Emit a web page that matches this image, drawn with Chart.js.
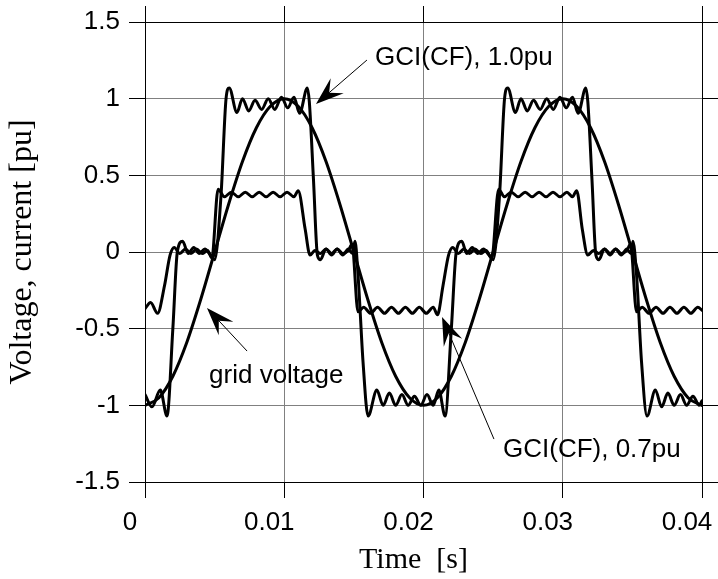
<!DOCTYPE html>
<html><head><meta charset="utf-8">
<script src="https://cdn.jsdelivr.net/npm/chart.js@4.4.0/dist/chart.umd.min.js"></script>
<style>html,body{margin:0;padding:0;background:#fff;}canvas{display:block;}</style>
</head><body>
<canvas id="c" width="718" height="579"></canvas>
<script>
const xTickValues = [0, 0.01, 0.02, 0.03, 0.04];
const xTickLabels = ['0', '0.01', '0.02', '0.03', '0.04'];
const yTickValues = [-1.5, -1, -0.5, 0, 0.5, 1, 1.5];
const yTickLabels = ['-1.5', '-1', '-0.5', '0', '0.5', '1', '1.5'];
const xTitle = 'Time  [s]';
const yTitle = 'Voltage, current [pu]';

const gridT = [0,0.001,0.002,0.003,0.004,0.005,0.006,0.007,0.008,0.009,0.010,0.011,0.012,0.013,0.014,0.015,0.016,0.017,0.018,0.019,0.020,
  0.021,0.022,0.023,0.024,0.025,0.026,0.027,0.028,0.029,0.030,0.031,0.032,0.033,0.034,0.035,0.036,0.037,0.038,0.039,0.040];
const gridV = [-1.00,-0.95,-0.81,-0.59,-0.31,0.00,0.31,0.59,0.81,0.95,1.00,0.95,0.81,0.59,0.31,0.00,-0.31,-0.59,-0.81,-0.95,-1.00,
  -0.95,-0.81,-0.59,-0.31,0.00,0.31,0.59,0.81,0.95,1.00,0.95,0.81,0.59,0.31,0.00,-0.31,-0.59,-0.81,-0.95,-1.00];

const gci10T = [0,0.0005,0.0011,0.00158,0.0020,0.00232,0.0027,0.0031,0.0035,0.0039,0.0043,0.0047,0.0050,0.00546,0.00582,0.00605,
  0.0066,0.0070,0.00745,0.0079,0.00838,0.00885,0.00932,0.0098,0.01025,0.0107,0.0111,0.01166,0.0118,0.0121,0.01238,0.0126,
  0.0130,0.0134,0.0138,0.0142,0.0146,0.0149,0.01508,0.0153,0.01566,0.01602,0.01665,0.0171,0.01755,0.0180,0.01845,0.0189,
  0.01935,0.0198,0.02025,0.0207,0.0211,0.02155,
  0.0220,0.02235,0.02275,0.0231,0.0235,0.0239,0.0243,0.0247,0.0250,0.02546,0.02582,0.02605,0.0266,0.0270,0.02745,0.0279,
  0.02838,0.02885,0.02932,0.0298,0.03025,0.0307,0.0311,0.03166,0.0318,0.0321,0.03238,0.0326,0.0330,0.0334,0.0338,0.0342,
  0.0346,0.0349,0.03504,0.0353,0.03566,0.03605,0.03665,0.0371,0.03755,0.0380,0.03845,0.0389,0.03935,0.0398,0.0400];
const gci10V = [-0.93,-1.01,-0.90,-1.07,-0.50,0.00,0.07,-0.01,0.03,-0.01,0.02,-0.02,-0.05,0.37,1.00,1.07,
  0.91,1.00,0.92,0.99,0.93,1.00,0.93,1.01,0.94,1.01,0.905,1.07,0.98,0.47,-0.02,-0.05,
  0.02,-0.02,0.02,-0.02,0.02,-0.01,0.07,-0.15,-0.72,-1.07,-0.90,-1.00,-0.92,-1.00,-0.93,-1.00,
  -0.94,-1.00,-0.93,-1.00,-0.90,-1.07,
  -0.50,0.00,0.07,-0.01,0.03,-0.01,0.02,-0.02,-0.05,0.37,1.00,1.07,0.91,1.00,0.92,0.99,
  0.93,1.00,0.93,1.01,0.94,1.01,0.905,1.07,0.98,0.47,-0.02,-0.05,0.02,-0.02,0.02,-0.02,
  0.02,-0.01,0.07,-0.15,-0.72,-1.07,-0.90,-1.01,-0.92,-1.00,-0.93,-1.00,-0.94,-1.00,-0.97];

const gci07T = [0,0.0004,0.0009,0.0014,0.0018,0.0021,0.0025,0.0029,0.0033,0.0037,0.0041,0.0045,0.0048,0.00525,
  0.0057,0.0062,0.0067,0.0072,0.0077,0.0082,0.0087,0.0092,0.0097,0.0102,0.0107,0.0110,0.0115,0.01185,
  0.0122,0.0126,0.0130,0.0134,0.0138,0.0142,0.0146,0.01487,0.0153,0.0157,0.0162,0.0167,0.0172,0.0177,
  0.0182,0.0187,0.0192,0.0197,0.0202,0.0207,0.0210,0.0214,0.0218,0.0221,0.0225,0.0229,0.0233,0.0237,
  0.0241,0.0245,0.0249,0.0254,0.0258,0.0263,0.0268,0.0273,0.0278,0.0283,0.0288,0.0293,0.0298,0.0303,
  0.0307,0.0310,0.0314,0.0318,0.0322,0.0326,0.0330,0.0334,0.0338,0.0342,0.0346,0.03487,0.0353,0.0357,
  0.0362,0.0367,0.0372,0.0377,0.0382,0.0387,0.0392,0.0397,0.0400];
const gci07V = [-0.37,-0.33,-0.40,-0.22,-0.02,0.03,-0.01,0.02,-0.01,0.02,-0.01,0.01,-0.04,0.41,
  0.36,0.39,0.36,0.39,0.36,0.39,0.36,0.39,0.36,0.39,0.36,0.40,0.15,-0.02,
  0.01,-0.01,0.02,-0.01,0.02,-0.01,0.01,0.05,-0.39,-0.36,-0.40,-0.36,-0.40,-0.36,
  -0.40,-0.36,-0.40,-0.36,-0.40,-0.36,-0.41,-0.22,-0.02,0.03,-0.01,0.02,-0.01,0.02,
  -0.01,0.01,-0.04,0.41,0.36,0.39,0.36,0.39,0.36,0.39,0.36,0.39,0.36,0.39,
  0.36,0.40,0.15,-0.02,0.01,-0.01,0.02,-0.01,0.02,-0.01,0.01,0.05,-0.39,-0.36,
  -0.40,-0.36,-0.40,-0.36,-0.40,-0.36,-0.40,-0.36,-0.38];

const noteText = ['GCI(CF), 1.0pu', 'grid voltage', 'GCI(CF), 0.7pu'];
const noteT = [0.01652, 0.0046, 0.02571];
const noteV = [1.22, -0.856, -1.337];
const arrowTailT = [0.01594, 0.00733, 0.02506];
const arrowTailV = [1.252, -0.646, -1.22];
const arrowTipT = [0.01228, 0.00445, 0.02133];
const arrowTipV = [0.965, -0.365, -0.424];

const SANS = '"Liberation Sans", Arial, Helvetica, sans-serif';
const SERIF = '"Liberation Serif", "Times New Roman", serif';

function pts(T, V) { return T.map((t, i) => ({ x: t, y: V[i] })); }
function lineDs(T, V) {
  return { data: pts(T, V), borderColor: '#000', borderWidth: 3, pointRadius: 0, fill: false,
    cubicInterpolationMode: 'monotone', borderJoinStyle: 'round', borderCapStyle: 'round' };
}
function noPad(s) { s.paddingLeft = 0; s.paddingRight = 0; s.paddingTop = 0; s.paddingBottom = 0; }

const notesPlugin = {
  id: 'notes',
  afterDatasetsDraw(chart) {
    const ctx = chart.ctx, xs = chart.scales.x, ys = chart.scales.y, ca = chart.chartArea;
    ctx.save();
    ctx.fillStyle = '#000';
    ctx.strokeStyle = '#000';
    ctx.font = '26px ' + SANS;
    ctx.textAlign = 'left';
    ctx.textBaseline = 'alphabetic';
    noteText.forEach((s, i) => ctx.fillText(s, xs.getPixelForValue(noteT[i]), ys.getPixelForValue(noteV[i])));
    for (let i = 0; i < arrowTipT.length; i++) {
      const x0 = xs.getPixelForValue(arrowTailT[i]), y0 = ys.getPixelForValue(arrowTailV[i]);
      const x1 = xs.getPixelForValue(arrowTipT[i]), y1 = ys.getPixelForValue(arrowTipV[i]);
      const a = Math.atan2(y1 - y0, x1 - x0), c = Math.cos(a), s = Math.sin(a);
      const L = 28, W = 10;
      ctx.lineWidth = 1;
      ctx.beginPath(); ctx.moveTo(x0, y0); ctx.lineTo(x1 - c * L * 0.6, y1 - s * L * 0.6); ctx.stroke();
      const bx = x1 - c * L, by = y1 - s * L;
      ctx.beginPath();
      ctx.moveTo(x1, y1);
      ctx.lineTo(bx - s * W, by + c * W);
      ctx.lineTo(x1 - c * L * 0.62, y1 - s * L * 0.62);
      ctx.lineTo(bx + s * W, by - c * W);
      ctx.closePath();
      ctx.fill();
    }
    // x-axis title (drawn slightly left of centre, as in the reference)
    ctx.font = '30px ' + SERIF;
    ctx.textAlign = 'center';
    ctx.fillText(xTitle, (ca.left + ca.right) / 2 - 10, ca.bottom + 86);
    ctx.restore();
  }
};

new Chart(document.getElementById('c'), {
  type: 'line',
  data: { datasets: [lineDs(gci07T, gci07V), lineDs(gci10T, gci10V), lineDs(gridT, gridV)] },
  options: {
    responsive: false, animation: false, devicePixelRatio: 1,
    layout: { padding: 0 },
    plugins: { legend: { display: false }, tooltip: { enabled: false } },
    scales: {
      x: {
        type: 'linear', position: 'bottom', min: 0, max: 0.04,
        afterBuildTicks: s => { s.ticks = xTickValues.map(v => ({ value: v })); },
        afterFit: s => { s.height = 97; noPad(s); },
        ticks: { callback: (v, i) => xTickLabels[i], color: '#000', font: { family: SANS, size: 26 },
          padding: 9, labelOffset: -15, maxRotation: 0, autoSkip: false },
        grid: { color: '#808080', lineWidth: 1, tickLength: 16, tickColor: '#000' },
        border: { color: '#000', width: 1 },
        title: { display: false }
      },
      x2: {
        type: 'linear', position: 'top', min: 0, max: 0.04,
        afterBuildTicks: s => { s.ticks = xTickValues.map(v => ({ value: v })); },
        afterFit: s => { s.height = 22; noPad(s); },
        ticks: { display: false },
        grid: { drawOnChartArea: false, tickLength: 16, tickColor: '#000', color: '#000' },
        border: { color: '#000', width: 1 }
      },
      y: {
        type: 'linear', position: 'left', min: -1.5, max: 1.5,
        afterBuildTicks: s => { s.ticks = yTickValues.map(v => ({ value: v })); },
        afterFit: s => { s.width = 145; noPad(s); },
        ticks: { callback: (v, i) => yTickLabels[i], color: '#000', font: { family: SANS, size: 26 }, padding: 9 },
        grid: { color: '#808080', lineWidth: 1, tickLength: 16, tickColor: '#000' },
        border: { color: '#000', width: 1 },
        title: { display: true, text: yTitle, color: '#000', font: { family: SERIF, size: 32 },
          padding: { top: 3, bottom: 0 } }
      },
      y2: {
        type: 'linear', position: 'right', min: -1.5, max: 1.5,
        afterBuildTicks: s => { s.ticks = yTickValues.map(v => ({ value: v })); },
        afterFit: s => { s.width = 16; noPad(s); },
        ticks: { display: false },
        grid: { drawOnChartArea: false, tickLength: 16, tickColor: '#000', color: '#000' },
        border: { color: '#000', width: 1 }
      }
    }
  },
  plugins: [notesPlugin]
});
</script>
</body></html>
